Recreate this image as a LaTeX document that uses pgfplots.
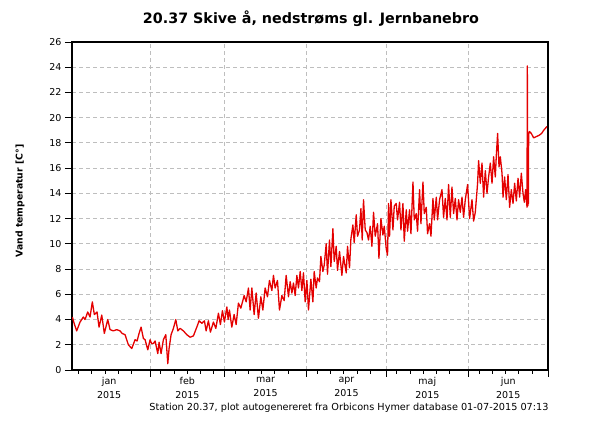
\documentclass[border=0pt]{standalone}
\usepackage{pgfplots}
\pgfplotsset{compat=1.18}
\usepackage{fontspec}
\setmainfont{DejaVu Sans}
\definecolor{linered}{RGB}{228,0,0}
\definecolor{gridgray}{RGB}{190,190,190}
\begin{document}
\begin{tikzpicture}[x=1pt,y=1pt]
\useasboundingbox (0,0) rectangle (600,425);
\node[font=\fontsize{14.3}{16}\selectfont\bfseries] at (311,406) {20.37 Skive å, nedstrøms gl. Jernbanebro};
\node[font=\fontsize{9.3}{11}\selectfont\bfseries, rotate=90] at (20,224) {Vand temperatur [C°]};
\node[font=\fontsize{9.7}{11}\selectfont, anchor=east] at (552,17) {Station 20.37, plot autogenereret fra Orbicons Hymer database 01-07-2015 07:13};
\begin{axis}[
  at={(72pt,55pt)}, anchor=south west,
  width=476pt, height=328pt, scale only axis,
  xmin=1.5, xmax=181, ymin=0, ymax=26,
  ytick={0,2,...,26},
  xtick={31,59,90,120,151,181},
  xticklabels={},
  minor xtick={4,9,14,19,24,35,40,45,50,55,63,68,73,78,83,94,99,104,109,114,124,129,134,139,144,155,160,165,170,175},
  extra x ticks={15.5,45,74.5,105,135.5,166},
  extra x tick labels={jan\\2015,feb\\2015,mar\\2015,apr\\2015,maj\\2015,jun\\2015},
  extra x tick style={grid=none, major tick length=0pt, tick label style={align=center, font=\fontsize{9.5}{14}\selectfont, yshift=-4pt}},
  xtick pos=bottom, ytick pos=left,
  tick align=outside,
  major tick length=7pt, minor tick length=4pt,
  every tick/.style={black, line width=0.9pt},
  ymajorgrids, xmajorgrids,
  major grid style={gridgray, dash pattern=on 4pt off 3pt, line width=0.9pt},
  axis line style={black, line width=1.1pt},
  yticklabel style={font=\fontsize{9.5}{11}\selectfont},
  /pgf/number format/assume math mode=true,
  clip=true,
]
\addplot[linered, line width=1.3pt, line join=round] table {
x y
1.62 4.2
2.45 3.6
3.28 3.1
4.53 3.8
5.77 4.2
6.42 4.0
7.43 4.6
8.30 4.2
9.17 5.4
9.92 4.4
10.94 4.6
11.70 3.4
12.72 4.35
13.70 2.9
14.98 4.0
15.85 3.2
17.09 3.1
18.38 3.2
19.62 3.1
20.38 2.9
21.51 2.8
22.75 2.0
24.04 1.7
25.28 2.4
26.04 2.3
26.79 2.9
27.55 3.4
28.42 2.5
29.06 2.4
30.08 1.6
30.94 2.4
31.5 2.1
32.19 2.1
32.83 2.3
33.85 1.3
34.34 2.2
35.09 1.3
35.96 2.4
36.87 2.8
37.62 0.5
38.11 1.7
38.87 2.8
39.74 3.3
40.64 4.0
41.40 3.1
42.26 3.3
43.51 3.1
44.79 2.8
46.04 2.6
47.28 2.7
48.57 3.4
49.43 3.9
50.45 3.7
51.43 3.9
52.08 3.1
52.94 3.9
53.70 3.0
54.83 3.8
55.74 3.3
56.72 4.5
57.47 3.6
58.23 4.7
58.98 3.8
59.89 5.0
60.38 4.0
60.87 4.75
61.77 3.4
62.64 4.4
63.40 3.6
64.26 5.3
65.17 4.9
66.42 5.9
67.17 5.4
68.04 6.5
68.68 4.75
69.32 6.5
70.19 4.4
70.94 6.1
71.81 4.1
72.72 5.8
73.47 4.75
74.34 6.5
75.21 5.8
75.96 7.1
76.87 6.3
77.47 7.5
78.11 6.5
78.98 7.1
79.74 4.75
80.64 5.9
81.51 5.5
82.26 7.5
83.13 5.8
83.77 7.0
84.42 6.1
85.02 6.9
85.66 5.9
86.30 7.5
86.91 6.5
87.55 7.8
88.19 6.3
88.79 7.7
89.43 5.4
90.08 7.1
90.68 4.75
91.58 7.2
92.34 5.4
92.83 7.8
93.58 6.5
94.08 7.3
94.83 7.0
95.36 9.0
96.11 7.8
96.60 8.3
97.36 10.0
97.85 7.6
98.60 10.3
99.13 8.2
99.89 11.2
100.38 8.6
101.13 9.8
101.62 7.9
102.38 9.4
103.28 7.5
103.89 9.0
104.91 7.7
105.40 9.8
106.15 8.1
106.68 10.4
107.43 11.5
107.92 10.1
108.68 12.3
109.17 10.6
109.92 11.1
110.45 12.8
110.94 10.3
111.43 13.5
112.08 11.1
112.72 10.9
113.32 10.3
113.96 11.4
114.60 9.8
115.21 12.5
115.85 10.6
116.72 11.6
117.25 8.85
118.0 12.0
118.75 10.7
119.25 11.4
120.0 9.6
120.49 9.1
120.87 13.2
121.25 10.6
121.77 13.5
122.53 11.1
123.02 13.0
123.77 13.2
124.26 11.9
125.02 13.3
125.55 11.1
126.30 13.2
126.79 10.2
127.55 12.7
128.04 11.0
128.79 12.7
129.32 10.8
130.08 14.9
130.57 11.9
131.32 12.4
131.81 11.0
132.57 14.3
133.09 11.6
133.85 14.9
134.34 12.4
135.09 12.9
135.58 10.8
136.34 11.6
136.87 10.6
137.62 13.6
138.11 11.9
138.87 13.7
139.36 11.9
140.11 13.5
141.02 14.3
141.62 12.1
142.26 13.6
142.91 11.9
143.51 14.7
144.15 12.1
144.79 14.5
145.40 12.4
146.04 13.6
146.68 11.9
147.28 13.5
147.92 12.5
148.57 13.7
149.17 12.1
149.81 13.5
150.68 14.7
151.43 12.0
152.34 13.5
152.94 11.8
153.58 12.5
154.45 14.8
154.83 16.6
155.47 14.8
156.11 16.4
156.72 13.7
157.36 15.8
158.0 14.0
158.60 15.3
159.25 16.4
159.89 14.8
160.49 16.9
161.13 15.3
161.51 17.0
162.0 18.75
162.53 16.1
163.02 16.9
163.66 15.6
164.04 13.7
164.64 15.3
165.28 13.5
165.92 15.5
166.53 12.9
167.17 14.3
167.81 13.2
168.42 14.8
169.06 13.4
169.70 15.2
170.30 13.7
170.94 15.6
171.58 14.0
172.08 13.3
172.57 14.3
173.09 12.9
173.2 24.1
173.3 18.5
173.4 13.0
173.5 18.6
173.6 13.2
173.7 18.7
174.0 18.9
174.72 18.75
175.58 18.4
176.6 18.5
177.62 18.6
178.6 18.75
179.36 19.0
180.0 19.15
180.57 19.3
};
\end{axis}
\end{tikzpicture}
\end{document}
